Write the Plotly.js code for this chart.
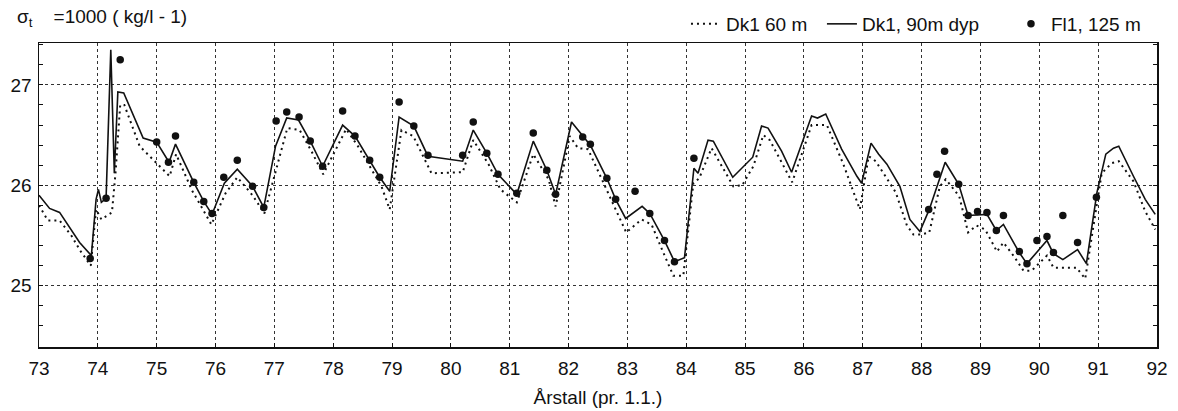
<!DOCTYPE html>
<html>
<head>
<meta charset="utf-8">
<script src="https://cdn.plot.ly/plotly-3.0.1.min.js"></script>
<style>
html,body{margin:0;padding:0;background:#fff;}
#chart{width:1178px;height:411px;}
</style>
</head>
<body>
<div id="chart"></div>
<script>
// Dk1, 90m dyp (solid line)
const dk90X = [73.00,73.18,73.35,73.52,73.69,73.89,73.97,74.01,74.06,74.14,74.22,74.28,74.34,74.44,74.77,75.00,75.21,75.32,75.63,75.80,75.94,76.15,76.37,76.63,76.82,77.02,77.21,77.41,77.61,77.82,78.16,78.37,78.62,78.79,78.96,79.12,79.37,79.61,80.20,80.38,80.61,80.80,81.12,81.40,81.63,81.78,82.05,82.24,82.37,82.65,82.80,82.97,83.25,83.38,83.63,83.80,83.97,84.13,84.20,84.37,84.46,84.79,85.13,85.28,85.39,85.62,85.79,86.13,86.23,86.37,86.64,86.90,86.98,87.14,87.27,87.41,87.63,87.80,87.97,88.13,88.40,88.63,88.79,89.11,89.27,89.39,89.66,89.79,90.13,90.24,90.40,90.65,90.80,90.98,91.13,91.26,91.35,91.60,91.80,91.97];
const dk90Y = [25.90,25.77,25.73,25.58,25.43,25.30,25.86,25.96,25.83,25.87,27.35,26.12,26.93,26.92,26.47,26.43,26.23,26.41,26.03,25.84,25.71,26.02,26.16,25.99,25.78,26.39,26.67,26.65,26.44,26.19,26.60,26.49,26.25,26.08,25.94,26.68,26.59,26.29,26.24,26.55,26.32,26.11,25.91,26.44,26.15,25.91,26.63,26.49,26.40,26.07,25.86,25.67,25.79,25.72,25.45,25.24,25.28,26.17,26.12,26.45,26.44,26.08,26.28,26.59,26.57,26.34,26.13,26.69,26.67,26.71,26.36,26.09,26.02,26.42,26.31,26.21,25.99,25.66,25.54,25.76,26.23,26.01,25.70,25.71,25.55,25.61,25.33,25.22,25.45,25.32,25.26,25.36,25.22,25.93,26.31,26.37,26.39,26.09,25.86,25.71];

// Dk1 60 m (dotted line)
const dk60X = [73.00,73.15,73.35,73.55,73.70,73.88,73.97,74.06,74.24,74.30,74.38,74.45,74.71,74.99,75.22,75.33,75.60,75.93,76.17,76.37,76.63,76.83,77.03,77.22,77.43,77.63,77.83,78.22,78.42,78.65,78.82,78.96,79.16,79.36,79.67,80.20,80.38,80.64,80.84,81.12,81.40,81.66,81.78,82.02,82.16,82.33,82.65,82.98,83.24,83.41,83.61,83.78,83.95,84.12,84.22,84.43,84.80,84.95,85.14,85.31,85.42,85.65,85.80,86.13,86.39,86.67,86.95,87.10,87.22,87.56,87.75,87.86,87.99,88.13,88.31,88.41,88.64,88.79,88.93,89.08,89.28,89.39,89.56,89.73,89.87,90.13,90.24,90.63,90.78,91.06,91.23,91.35,91.60,91.80,91.97];
const dk60Y = [25.80,25.65,25.65,25.50,25.35,25.20,25.76,25.66,25.73,26.12,26.80,26.80,26.39,26.22,26.09,26.31,25.95,25.61,25.92,26.08,25.90,25.72,26.17,26.57,26.55,26.34,26.11,26.56,26.39,26.16,25.99,25.76,26.55,26.49,26.12,26.13,26.45,26.21,25.96,25.83,26.31,26.06,25.79,26.49,26.37,26.36,25.96,25.53,25.66,25.61,25.33,25.10,25.10,26.02,26.07,26.37,25.99,26.00,26.19,26.50,26.45,26.19,26.03,26.60,26.60,26.21,25.76,26.29,26.24,25.93,25.60,25.51,25.51,25.53,25.99,26.06,25.89,25.53,25.60,25.56,25.34,25.43,25.30,25.15,25.15,25.30,25.18,25.18,25.07,26.12,26.22,26.24,26.04,25.74,25.56];

// Fl1, 125 m (dots)
const fl1X = [73.87,74.14,74.38,75.00,75.20,75.32,75.63,75.80,75.94,76.14,76.37,76.63,76.82,77.03,77.21,77.42,77.61,77.82,78.16,78.37,78.62,78.79,79.12,79.37,79.61,80.20,80.38,80.61,80.80,81.12,81.40,81.63,81.78,82.24,82.37,82.65,82.80,83.13,83.38,83.63,83.80,84.13,88.12,88.26,88.39,88.63,88.79,88.95,89.11,89.27,89.39,89.66,89.79,89.96,90.13,90.24,90.40,90.65,90.97];
const fl1Y = [25.27,25.87,27.25,26.43,26.23,26.49,26.03,25.84,25.72,26.08,26.25,25.99,25.78,26.64,26.73,26.68,26.44,26.19,26.74,26.49,26.25,26.08,26.83,26.59,26.30,26.30,26.63,26.32,26.11,25.92,26.52,26.15,25.91,26.48,26.41,26.07,25.86,25.94,25.72,25.45,25.24,26.27,25.76,26.11,26.34,26.01,25.70,25.74,25.73,25.55,25.70,25.34,25.22,25.45,25.49,25.33,25.70,25.43,25.88];

const xTicks = [73,74,75,76,77,78,79,80,81,82,83,84,85,86,87,88,89,90,91,92];
const yTicks = [25,26,27];

const FONT = "'Liberation Sans', Arial, Helvetica, sans-serif";

const traces = [
  {x: dk60X, y: dk60Y, type: 'scatter', mode: 'lines', name: 'Dk1 60 m', legend: 'legend',
   line: {color: '#111', width: 2, dash: '2px,4px'}},
  {x: dk90X, y: dk90Y, type: 'scatter', mode: 'lines', name: 'Dk1, 90m dyp', legend: 'legend2',
   line: {color: '#111', width: 1.6}},
  {x: fl1X, y: fl1Y, type: 'scatter', mode: 'markers', name: 'Fl1, 125 m', legend: 'legend3',
   marker: {color: '#111', size: 7.5, symbol: 'circle'}}
];

function leg(x) {
  return {orientation: 'h', x: x, xanchor: 'left', y: 1.0, yanchor: 'bottom',
          font: {size: 19, family: FONT}, itemwidth: 30,
          bgcolor: 'rgba(0,0,0,0)', borderwidth: 0};
}

const layout = {
  width: 1178, height: 411,
  margin: {l: 39, r: 21, t: 43, b: 64, autoexpand: false},
  paper_bgcolor: '#fff', plot_bgcolor: '#fff',
  font: {family: FONT, color: '#111', size: 19},
  showlegend: true,
  legend: leg(0.5787),
  legend2: leg(0.7003),
  legend3: leg(0.8694),
  xaxis: {
    range: [73, 92], tickmode: 'array', tickvals: xTicks, ticktext: xTicks.map(String),
    showgrid: true, gridcolor: '#333', griddash: 'dot', gridwidth: 1,
    showline: true, linecolor: '#111', linewidth: 1.5, mirror: true,
    ticks: 'inside', ticklen: 4, tickcolor: '#111', ticklabelstandoff: 4,
    zeroline: false, tickfont: {size: 19, family: FONT},
    title: {text: 'Årstall (pr. 1.1.)', font: {size: 19, family: FONT}, standoff: 12}
  },
  yaxis: {
    range: [24.39, 27.417], tickmode: 'array', tickvals: yTicks, ticktext: yTicks.map(String),
    showgrid: true, gridcolor: '#333', griddash: 'dot', gridwidth: 1,
    showline: true, linecolor: '#111', linewidth: 1.5, mirror: 'ticks',
    ticks: 'inside', ticklen: 4, tickcolor: '#111', ticklabelstandoff: 2,
    minor: {dtick: 0.2, ticks: 'inside', ticklen: 4, tickcolor: '#111', showgrid: false},
    zeroline: false, tickfont: {size: 19, family: FONT}
  },
  annotations: [
    {xref: 'paper', yref: 'paper', x: -0.0215, y: 1.0, yshift: 25, xanchor: 'left', yanchor: 'middle',
     showarrow: false, text: 'σ<sub>t</sub>\u00A0\u00A0\u00A0\u00A0=1000 ( kg/l - 1)', font: {size: 19, family: FONT}}
  ]
};

Plotly.newPlot('chart', traces, layout, {displayModeBar: false, staticPlot: true});
</script>
</body>
</html>
